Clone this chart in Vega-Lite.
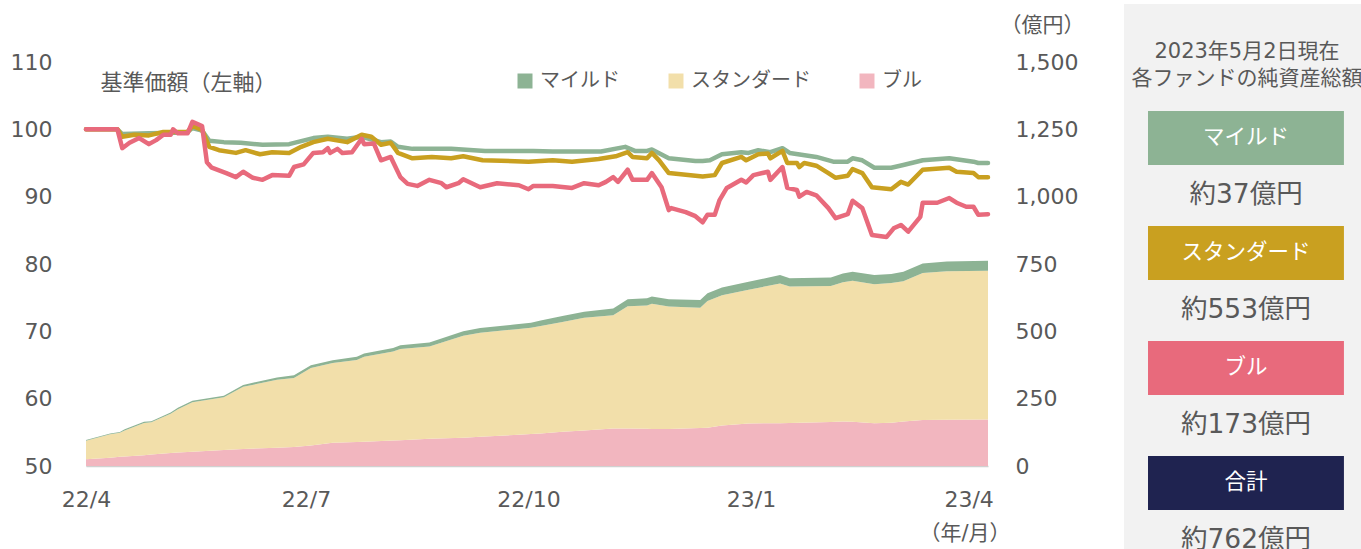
{
  "$schema": "https://vega.github.io/schema/vega-lite/v6.json",
  "padding": {"top": 4, "left": 0, "right": 0, "bottom": 0},
  "background": "white",
  "spacing": 0,
  "config": {
    "font": "DejaVu Sans, Noto Sans CJK JP",
    "view": {"stroke": null},
    "axis": {"labelColor": "#595959", "titleColor": "#595959", "labelFontSize": 22, "titleFontWeight": "normal", "grid": false, "domain": false, "ticks": false}
  },
  "datasets": {
    "funds": [{"f": "マイルド", "no": 1}, {"f": "スタンダード", "no": 2}, {"f": "ブル", "no": 3}],
    "aum": [
      {"d":"2022-04-01","f":"ブル","v":25},{"d":"2022-04-01","f":"スタンダード","v":69},{"d":"2022-04-01","f":"マイルド","v":3},
      {"d":"2022-04-11","f":"ブル","v":31},{"d":"2022-04-11","f":"スタンダード","v":87},{"d":"2022-04-11","f":"マイルド","v":3},
      {"d":"2022-04-15","f":"ブル","v":34},{"d":"2022-04-15","f":"スタンダード","v":89},{"d":"2022-04-15","f":"マイルド","v":3},
      {"d":"2022-04-17","f":"ブル","v":35},{"d":"2022-04-17","f":"スタンダード","v":97},{"d":"2022-04-17","f":"マイルド","v":4},
      {"d":"2022-04-25","f":"ブル","v":40},{"d":"2022-04-25","f":"スタンダード","v":120},{"d":"2022-04-25","f":"マイルド","v":4},
      {"d":"2022-04-28","f":"ブル","v":43},{"d":"2022-04-28","f":"スタンダード","v":119},{"d":"2022-04-28","f":"マイルド","v":4},
      {"d":"2022-05-06","f":"ブル","v":48},{"d":"2022-05-06","f":"スタンダード","v":146},{"d":"2022-05-06","f":"マイルド","v":5},
      {"d":"2022-05-09","f":"ブル","v":50},{"d":"2022-05-09","f":"スタンダード","v":161},{"d":"2022-05-09","f":"マイルド","v":5},
      {"d":"2022-05-15","f":"ブル","v":53},{"d":"2022-05-15","f":"スタンダード","v":184},{"d":"2022-05-15","f":"マイルド","v":5},
      {"d":"2022-05-28","f":"ブル","v":59},{"d":"2022-05-28","f":"スタンダード","v":196},{"d":"2022-05-28","f":"マイルド","v":6},
      {"d":"2022-06-05","f":"ブル","v":63},{"d":"2022-06-05","f":"スタンダード","v":231},{"d":"2022-06-05","f":"マイルド","v":7},
      {"d":"2022-06-19","f":"ブル","v":68},{"d":"2022-06-19","f":"スタンダード","v":252},{"d":"2022-06-19","f":"マイルド","v":9},
      {"d":"2022-06-26","f":"ブル","v":71},{"d":"2022-06-26","f":"スタンダード","v":256},{"d":"2022-06-26","f":"マイルド","v":10},
      {"d":"2022-07-03","f":"ブル","v":76},{"d":"2022-07-03","f":"スタンダード","v":288},{"d":"2022-07-03","f":"マイルド","v":10},
      {"d":"2022-07-12","f":"ブル","v":86},{"d":"2022-07-12","f":"スタンダード","v":296},{"d":"2022-07-12","f":"マイルド","v":11},
      {"d":"2022-07-22","f":"ブル","v":89},{"d":"2022-07-22","f":"スタンダード","v":305},{"d":"2022-07-22","f":"マイルド","v":12},
      {"d":"2022-07-25","f":"ブル","v":90},{"d":"2022-07-25","f":"スタンダード","v":316},{"d":"2022-07-25","f":"マイルド","v":12},
      {"d":"2022-08-06","f":"ブル","v":95},{"d":"2022-08-06","f":"スタンダード","v":330},{"d":"2022-08-06","f":"マイルド","v":13},
      {"d":"2022-08-09","f":"ブル","v":96},{"d":"2022-08-09","f":"スタンダード","v":338},{"d":"2022-08-09","f":"マイルド","v":14},
      {"d":"2022-08-21","f":"ブル","v":101},{"d":"2022-08-21","f":"スタンダード","v":343},{"d":"2022-08-21","f":"マイルド","v":15},
      {"d":"2022-09-04","f":"ブル","v":105},{"d":"2022-09-04","f":"スタンダード","v":379},{"d":"2022-09-04","f":"マイルド","v":16},
      {"d":"2022-09-11","f":"ブル","v":109},{"d":"2022-09-11","f":"スタンダード","v":386},{"d":"2022-09-11","f":"マイルド","v":17},
      {"d":"2022-09-25","f":"ブル","v":115},{"d":"2022-09-25","f":"スタンダード","v":392},{"d":"2022-09-25","f":"マイルド","v":18},
      {"d":"2022-10-02","f":"ブル","v":119},{"d":"2022-10-02","f":"スタンダード","v":394},{"d":"2022-10-02","f":"マイルド","v":19},
      {"d":"2022-10-06","f":"ブル","v":121},{"d":"2022-10-06","f":"スタンダード","v":399},{"d":"2022-10-06","f":"マイルド","v":20},
      {"d":"2022-10-15","f":"ブル","v":127},{"d":"2022-10-15","f":"スタンダード","v":408},{"d":"2022-10-15","f":"マイルド","v":22},
      {"d":"2022-10-24","f":"ブル","v":132},{"d":"2022-10-24","f":"スタンダード","v":418},{"d":"2022-10-24","f":"マイルド","v":23},
      {"d":"2022-11-05","f":"ブル","v":139},{"d":"2022-11-05","f":"スタンダード","v":421},{"d":"2022-11-05","f":"マイルド","v":25},
      {"d":"2022-11-11","f":"ブル","v":139},{"d":"2022-11-11","f":"スタンダード","v":454},{"d":"2022-11-11","f":"マイルド","v":26},
      {"d":"2022-11-19","f":"ブル","v":138},{"d":"2022-11-19","f":"スタンダード","v":458},{"d":"2022-11-19","f":"マイルド","v":27},
      {"d":"2022-11-21","f":"ブル","v":137},{"d":"2022-11-21","f":"スタンダード","v":465},{"d":"2022-11-21","f":"マイルド","v":27},
      {"d":"2022-11-28","f":"ブル","v":137},{"d":"2022-11-28","f":"スタンダード","v":455},{"d":"2022-11-28","f":"マイルド","v":27},
      {"d":"2022-12-11","f":"ブル","v":141},{"d":"2022-12-11","f":"スタンダード","v":447},{"d":"2022-12-11","f":"マイルド","v":28},
      {"d":"2022-12-14","f":"ブル","v":142},{"d":"2022-12-14","f":"スタンダード","v":471},{"d":"2022-12-14","f":"マイルド","v":28},
      {"d":"2022-12-20","f":"ブル","v":150},{"d":"2022-12-20","f":"スタンダード","v":484},{"d":"2022-12-20","f":"マイルド","v":29},
      {"d":"2022-12-31","f":"ブル","v":158},{"d":"2022-12-31","f":"スタンダード","v":496},{"d":"2022-12-31","f":"マイルド","v":30},
      {"d":"2023-01-13","f":"ブル","v":159},{"d":"2023-01-13","f":"スタンダード","v":519},{"d":"2023-01-13","f":"マイルド","v":31},
      {"d":"2023-01-17","f":"ブル","v":160},{"d":"2023-01-17","f":"スタンダード","v":506},{"d":"2023-01-17","f":"マイルド","v":31},
      {"d":"2023-02-03","f":"ブル","v":163},{"d":"2023-02-03","f":"スタンダード","v":505},{"d":"2023-02-03","f":"マイルド","v":32},
      {"d":"2023-02-08","f":"ブル","v":165},{"d":"2023-02-08","f":"スタンダード","v":517},{"d":"2023-02-08","f":"マイルド","v":33},
      {"d":"2023-02-12","f":"ブル","v":164},{"d":"2023-02-12","f":"スタンダード","v":524},{"d":"2023-02-12","f":"マイルド","v":33},
      {"d":"2023-02-21","f":"ブル","v":159},{"d":"2023-02-21","f":"スタンダード","v":516},{"d":"2023-02-21","f":"マイルド","v":34},
      {"d":"2023-02-28","f":"ブル","v":161},{"d":"2023-02-28","f":"スタンダード","v":518},{"d":"2023-02-28","f":"マイルド","v":34},
      {"d":"2023-03-05","f":"ブル","v":165},{"d":"2023-03-05","f":"スタンダード","v":521},{"d":"2023-03-05","f":"マイルド","v":35},
      {"d":"2023-03-13","f":"ブル","v":171},{"d":"2023-03-13","f":"スタンダード","v":546},{"d":"2023-03-13","f":"マイルド","v":35},
      {"d":"2023-03-23","f":"ブル","v":172},{"d":"2023-03-23","f":"スタンダード","v":551},{"d":"2023-03-23","f":"マイルド","v":36},
      {"d":"2023-04-09","f":"ブル","v":173},{"d":"2023-04-09","f":"スタンダード","v":552},{"d":"2023-04-09","f":"マイルド","v":37}
    ],
    "nav": [
      {"d":"2022-04-01","f":"マイルド","v":100},{"d":"2022-04-14","f":"マイルド","v":100},{"d":"2022-04-16","f":"マイルド","v":99.3},{"d":"2022-04-27","f":"マイルド","v":99.4},{"d":"2022-05-08","f":"マイルド","v":99.5},{"d":"2022-05-13","f":"マイルド","v":99.6},{"d":"2022-05-15","f":"マイルド","v":100.2},{"d":"2022-05-19","f":"マイルド","v":99.8},{"d":"2022-05-22","f":"マイルド","v":98.3},{"d":"2022-05-28","f":"マイルド","v":98.1},{"d":"2022-06-04","f":"マイルド","v":98.0},{"d":"2022-06-13","f":"マイルド","v":97.7},{"d":"2022-06-24","f":"マイルド","v":97.8},{"d":"2022-07-04","f":"マイルド","v":98.7},{"d":"2022-07-10","f":"マイルド","v":98.9},{"d":"2022-07-18","f":"マイルド","v":98.6},{"d":"2022-07-24","f":"マイルド","v":98.9},{"d":"2022-08-01","f":"マイルド","v":98.1},{"d":"2022-08-05","f":"マイルド","v":98.2},{"d":"2022-08-08","f":"マイルド","v":97.4},{"d":"2022-08-14","f":"マイルド","v":97.1},{"d":"2022-08-30","f":"マイルド","v":97.1},{"d":"2022-09-13","f":"マイルド","v":96.8},{"d":"2022-10-03","f":"マイルド","v":96.8},{"d":"2022-10-11","f":"マイルド","v":96.7},{"d":"2022-10-31","f":"マイルド","v":96.7},{"d":"2022-11-10","f":"マイルド","v":97.4},{"d":"2022-11-14","f":"マイルド","v":96.8},{"d":"2022-11-19","f":"マイルド","v":96.8},{"d":"2022-11-21","f":"マイルド","v":97.0},{"d":"2022-11-28","f":"マイルド","v":95.7},{"d":"2022-12-09","f":"マイルド","v":95.3},{"d":"2022-12-12","f":"マイルド","v":95.3},{"d":"2022-12-15","f":"マイルド","v":95.4},{"d":"2022-12-20","f":"マイルド","v":96.3},{"d":"2022-12-28","f":"マイルド","v":96.6},{"d":"2022-12-31","f":"マイルド","v":96.5},{"d":"2023-01-04","f":"マイルド","v":96.9},{"d":"2023-01-09","f":"マイルド","v":96.6},{"d":"2023-01-14","f":"マイルド","v":97.2},{"d":"2023-01-17","f":"マイルド","v":96.5},{"d":"2023-01-28","f":"マイルド","v":95.9},{"d":"2023-02-04","f":"マイルド","v":95.2},{"d":"2023-02-10","f":"マイルド","v":95.2},{"d":"2023-02-12","f":"マイルド","v":95.7},{"d":"2023-02-16","f":"マイルド","v":95.4},{"d":"2023-02-21","f":"マイルド","v":94.3},{"d":"2023-02-28","f":"マイルド","v":94.3},{"d":"2023-03-05","f":"マイルド","v":94.7},{"d":"2023-03-13","f":"マイルド","v":95.4},{"d":"2023-03-24","f":"マイルド","v":95.7},{"d":"2023-04-03","f":"マイルド","v":95.2},{"d":"2023-04-05","f":"マイルド","v":95.0},{"d":"2023-04-09","f":"マイルド","v":95.0},
      {"d":"2022-04-01","f":"スタンダード","v":100},{"d":"2022-04-14","f":"スタンダード","v":100},{"d":"2022-04-16","f":"スタンダード","v":98.9},{"d":"2022-04-21","f":"スタンダード","v":99.2},{"d":"2022-04-27","f":"スタンダード","v":99.1},{"d":"2022-05-03","f":"スタンダード","v":99.6},{"d":"2022-05-13","f":"スタンダード","v":99.6},{"d":"2022-05-15","f":"スタンダード","v":100.5},{"d":"2022-05-19","f":"スタンダード","v":99.9},{"d":"2022-05-22","f":"スタンダード","v":97.4},{"d":"2022-05-26","f":"スタンダード","v":96.9},{"d":"2022-06-02","f":"スタンダード","v":96.5},{"d":"2022-06-06","f":"スタンダード","v":96.9},{"d":"2022-06-12","f":"スタンダード","v":96.3},{"d":"2022-06-17","f":"スタンダード","v":96.6},{"d":"2022-06-24","f":"スタンダード","v":96.5},{"d":"2022-06-29","f":"スタンダード","v":97.4},{"d":"2022-07-04","f":"スタンダード","v":98.1},{"d":"2022-07-10","f":"スタンダード","v":98.6},{"d":"2022-07-18","f":"スタンダード","v":98.1},{"d":"2022-07-24","f":"スタンダード","v":99.2},{"d":"2022-07-28","f":"スタンダード","v":98.9},{"d":"2022-08-01","f":"スタンダード","v":97.7},{"d":"2022-08-05","f":"スタンダード","v":98.0},{"d":"2022-08-08","f":"スタンダード","v":96.5},{"d":"2022-08-14","f":"スタンダード","v":95.7},{"d":"2022-08-22","f":"スタンダード","v":95.9},{"d":"2022-08-30","f":"スタンダード","v":95.7},{"d":"2022-09-04","f":"スタンダード","v":96.0},{"d":"2022-09-12","f":"スタンダード","v":95.4},{"d":"2022-10-01","f":"スタンダード","v":95.2},{"d":"2022-10-11","f":"スタンダード","v":95.4},{"d":"2022-10-19","f":"スタンダード","v":95.2},{"d":"2022-10-30","f":"スタンダード","v":95.6},{"d":"2022-11-06","f":"スタンダード","v":96.0},{"d":"2022-11-11","f":"スタンダード","v":96.6},{"d":"2022-11-13","f":"スタンダード","v":95.9},{"d":"2022-11-19","f":"スタンダード","v":95.7},{"d":"2022-11-21","f":"スタンダード","v":96.5},{"d":"2022-11-24","f":"スタンダード","v":95.4},{"d":"2022-11-28","f":"スタンダード","v":93.5},{"d":"2022-12-09","f":"スタンダード","v":93.1},{"d":"2022-12-12","f":"スタンダード","v":93.0},{"d":"2022-12-17","f":"スタンダード","v":93.2},{"d":"2022-12-20","f":"スタンダード","v":95.0},{"d":"2022-12-28","f":"スタンダード","v":95.9},{"d":"2022-12-30","f":"スタンダード","v":95.4},{"d":"2023-01-04","f":"スタンダード","v":96.3},{"d":"2023-01-08","f":"スタンダード","v":96.4},{"d":"2023-01-09","f":"スタンダード","v":95.7},{"d":"2023-01-14","f":"スタンダード","v":96.8},{"d":"2023-01-16","f":"スタンダード","v":95.0},{"d":"2023-01-20","f":"スタンダード","v":95.0},{"d":"2023-01-21","f":"スタンダード","v":94.4},{"d":"2023-01-23","f":"スタンダード","v":95.0},{"d":"2023-01-28","f":"スタンダード","v":94.6},{"d":"2023-02-02","f":"スタンダード","v":93.5},{"d":"2023-02-05","f":"スタンダード","v":92.8},{"d":"2023-02-10","f":"スタンダード","v":93.1},{"d":"2023-02-12","f":"スタンダード","v":94.1},{"d":"2023-02-16","f":"スタンダード","v":93.5},{"d":"2023-02-20","f":"スタンダード","v":91.4},{"d":"2023-02-28","f":"スタンダード","v":91.1},{"d":"2023-03-04","f":"スタンダード","v":92.2},{"d":"2023-03-07","f":"スタンダード","v":91.8},{"d":"2023-03-13","f":"スタンダード","v":94.0},{"d":"2023-03-24","f":"スタンダード","v":94.3},{"d":"2023-03-27","f":"スタンダード","v":93.7},{"d":"2023-04-03","f":"スタンダード","v":93.5},{"d":"2023-04-05","f":"スタンダード","v":92.9},{"d":"2023-04-09","f":"スタンダード","v":92.9},
      {"d":"2022-04-01","f":"ブル","v":100},{"d":"2022-04-14","f":"ブル","v":100},{"d":"2022-04-16","f":"ブル","v":97.2},{"d":"2022-04-19","f":"ブル","v":98.0},{"d":"2022-04-23","f":"ブル","v":98.7},{"d":"2022-04-27","f":"ブル","v":97.8},{"d":"2022-04-30","f":"ブル","v":98.4},{"d":"2022-05-03","f":"ブル","v":99.2},{"d":"2022-05-06","f":"ブル","v":99.2},{"d":"2022-05-07","f":"ブル","v":100.0},{"d":"2022-05-09","f":"ブル","v":99.4},{"d":"2022-05-13","f":"ブル","v":99.4},{"d":"2022-05-15","f":"ブル","v":101.1},{"d":"2022-05-19","f":"ブル","v":100.5},{"d":"2022-05-21","f":"ブル","v":95.1},{"d":"2022-05-23","f":"ブル","v":94.3},{"d":"2022-05-29","f":"ブル","v":93.5},{"d":"2022-06-02","f":"ブル","v":92.9},{"d":"2022-06-05","f":"ブル","v":93.7},{"d":"2022-06-09","f":"ブル","v":92.8},{"d":"2022-06-13","f":"ブル","v":92.5},{"d":"2022-06-17","f":"ブル","v":93.2},{"d":"2022-06-24","f":"ブル","v":93.1},{"d":"2022-06-26","f":"ブル","v":94.4},{"d":"2022-06-30","f":"ブル","v":94.8},{"d":"2022-07-04","f":"ブル","v":96.5},{"d":"2022-07-08","f":"ブル","v":96.6},{"d":"2022-07-10","f":"ブル","v":97.2},{"d":"2022-07-11","f":"ブル","v":96.5},{"d":"2022-07-14","f":"ブル","v":97.1},{"d":"2022-07-16","f":"ブル","v":96.5},{"d":"2022-07-20","f":"ブル","v":96.6},{"d":"2022-07-24","f":"ブル","v":98.6},{"d":"2022-07-25","f":"ブル","v":97.8},{"d":"2022-07-29","f":"ブル","v":97.9},{"d":"2022-08-01","f":"ブル","v":95.4},{"d":"2022-08-05","f":"ブル","v":95.9},{"d":"2022-08-09","f":"ブル","v":92.9},{"d":"2022-08-12","f":"ブル","v":91.9},{"d":"2022-08-16","f":"ブル","v":91.6},{"d":"2022-08-21","f":"ブル","v":92.5},{"d":"2022-08-26","f":"ブル","v":92.0},{"d":"2022-08-28","f":"ブル","v":91.4},{"d":"2022-09-02","f":"ブル","v":92.0},{"d":"2022-09-04","f":"ブル","v":92.6},{"d":"2022-09-11","f":"ブル","v":91.4},{"d":"2022-09-18","f":"ブル","v":92.0},{"d":"2022-09-27","f":"ブル","v":91.7},{"d":"2022-10-01","f":"ブル","v":91.1},{"d":"2022-10-03","f":"ブル","v":91.6},{"d":"2022-10-11","f":"ブル","v":91.6},{"d":"2022-10-19","f":"ブル","v":91.3},{"d":"2022-10-24","f":"ブル","v":92.0},{"d":"2022-10-30","f":"ブル","v":91.7},{"d":"2022-11-02","f":"ブル","v":92.2},{"d":"2022-11-05","f":"ブル","v":92.9},{"d":"2022-11-07","f":"ブル","v":92.2},{"d":"2022-11-11","f":"ブル","v":94.0},{"d":"2022-11-13","f":"ブル","v":92.5},{"d":"2022-11-19","f":"ブル","v":92.5},{"d":"2022-11-21","f":"ブル","v":93.5},{"d":"2022-11-25","f":"ブル","v":91.4},{"d":"2022-11-28","f":"ブル","v":88.0},{"d":"2022-11-29","f":"ブル","v":88.3},{"d":"2022-12-05","f":"ブル","v":87.7},{"d":"2022-12-09","f":"ブル","v":87.1},{"d":"2022-12-12","f":"ブル","v":86.2},{"d":"2022-12-14","f":"ブル","v":87.3},{"d":"2022-12-17","f":"ブル","v":87.3},{"d":"2022-12-19","f":"ブル","v":89.5},{"d":"2022-12-22","f":"ブル","v":91.3},{"d":"2022-12-28","f":"ブル","v":92.5},{"d":"2022-12-30","f":"ブル","v":92.1},{"d":"2023-01-02","f":"ブル","v":93.2},{"d":"2023-01-08","f":"ブル","v":93.7},{"d":"2023-01-09","f":"ブル","v":92.5},{"d":"2023-01-14","f":"ブル","v":94.4},{"d":"2023-01-16","f":"ブル","v":91.3},{"d":"2023-01-20","f":"ブル","v":91.0},{"d":"2023-01-21","f":"ブル","v":90.0},{"d":"2023-01-24","f":"ブル","v":90.7},{"d":"2023-01-28","f":"ブル","v":90.2},{"d":"2023-02-02","f":"ブル","v":88.3},{"d":"2023-02-05","f":"ブル","v":86.8},{"d":"2023-02-10","f":"ブル","v":87.4},{"d":"2023-02-12","f":"ブル","v":89.4},{"d":"2023-02-16","f":"ブル","v":88.3},{"d":"2023-02-20","f":"ブル","v":84.3},{"d":"2023-02-26","f":"ブル","v":84.0},{"d":"2023-03-01","f":"ブル","v":85.3},{"d":"2023-03-04","f":"ブル","v":85.8},{"d":"2023-03-07","f":"ブル","v":84.8},{"d":"2023-03-12","f":"ブル","v":87.0},{"d":"2023-03-13","f":"ブル","v":89.1},{"d":"2023-03-19","f":"ブル","v":89.1},{"d":"2023-03-24","f":"ブル","v":89.8},{"d":"2023-03-27","f":"ブル","v":89.1},{"d":"2023-03-31","f":"ブル","v":88.5},{"d":"2023-04-03","f":"ブル","v":88.5},{"d":"2023-04-05","f":"ブル","v":87.3},{"d":"2023-04-09","f":"ブル","v":87.4}
    ],
    "panel": [
      {"name": "マイルド", "amount": "約37億円"},
      {"name": "スタンダード", "amount": "約553億円"},
      {"name": "ブル", "amount": "約173億円"},
      {"name": "合計", "amount": "約762億円"}
    ]
  },
  "hconcat": [
    {
      "width": 902,
      "height": 462,
      "encoding": {
        "x": {
          "field": "d", "type": "temporal",
          "scale": {"type": "utc", "domain": [{"year": 2022, "month": 4, "date": 1, "utc": true}, {"year": 2023, "month": 4, "date": 9, "utc": true}]},
          "axis": {
            "values": [{"year": 2022, "month": 4, "date": 1, "utc": true}, {"year": 2022, "month": 7, "date": 1, "utc": true}, {"year": 2022, "month": 10, "date": 1, "utc": true}, {"year": 2023, "month": 1, "date": 1, "utc": true}, {"year": 2023, "month": 4, "date": 1, "utc": true}],
            "format": "%y/%-m", "labelFlush": false, "labelPadding": 30,
            "ticks": true, "tickSize": -7, "tickColor": "#d0d0d0", "tickWidth": 1,
            "domain": true, "domainColor": "#d0d0d0", "domainWidth": 1.5,
            "title": "（年/月）", "titleAngle": 0, "titleAlign": "right", "titleBaseline": "middle", "titleX": 924, "titleY": 67, "titleFontSize": 21
          }
        }
      },
      "layer": [
        {
          "data": {"name": "aum"},
          "transform": [{"lookup": "f", "from": {"data": {"name": "funds"}, "key": "f", "fields": ["no"]}}],
          "mark": {"type": "area", "interpolate": "linear", "opacity": 1},
          "encoding": {
            "y": {
              "field": "v", "type": "quantitative", "stack": "zero",
              "scale": {"domain": [0, 1715.35], "nice": false},
              "axis": {"orient": "right", "values": [0, 250, 500, 750, 1000, 1250, 1500], "format": ",.0f", "labelPadding": 27, "tickSize": 0, "minExtent": 136, "maxExtent": 136,
                "title": "（億円）", "titleAngle": 0, "titleAlign": "center", "titleBaseline": "middle", "titleX": 54, "titleY": 21, "titleFontSize": 21}
            },
            "color": {
              "field": "f", "type": "nominal",
              "scale": {"domain": ["マイルド", "スタンダード", "ブル"], "range": ["#8DB394", "#F2DFAA", "#F2B6BF"]},
              "legend": {"orient": "none", "legendX": 429, "legendY": 67, "direction": "horizontal", "title": null,
                "symbolType": "square", "symbolSize": 225, "symbolStrokeWidth": 0, "symbolOpacity": 1, "labelFontSize": 20, "labelColor": "#595959", "labelOffset": 5, "columnPadding": 46, "padding": 0}
            },
            "order": {"field": "no", "type": "quantitative", "sort": "descending"}
          }
        },
        {
          "layer": [
            {
              "data": {"name": "nav"},
              "mark": {"type": "line", "strokeWidth": 4.5, "strokeJoin": "round", "strokeCap": "round"},
              "encoding": {
                "y": {
                  "field": "v", "type": "quantitative",
                  "scale": {"domain": [50, 118.614], "nice": false, "zero": false},
                  "axis": {"orient": "left", "values": [50, 60, 70, 80, 90, 100, 110], "labelPadding": 34, "tickSize": 0, "minExtent": 86, "maxExtent": 86,
                    "title": "基準価額（左軸）", "titleAngle": 0, "titleAlign": "left", "titleBaseline": "middle", "titleX": 14, "titleY": 78, "titleFontSize": 22}
                },
                "color": {
                  "field": "f", "type": "nominal",
                  "scale": {"domain": ["マイルド", "スタンダード", "ブル"], "range": ["#8DB394", "#C9A020", "#E86A7C"]},
                  "legend": null
                }
              }
            },
            {
              "data": {"values": [{}]},
              "mark": {"type": "text", "align": "right", "baseline": "middle", "fontSize": 22, "color": "#595959"},
              "encoding": {
                "x": {"datum": {"year": 2023, "month": 3, "date": 29, "utc": true}, "type": "temporal"},
                "y": {"datum": 63.96, "type": "quantitative"},
                "text": {"value": "純資産総額（右軸）"}
              }
            }
          ]
        }
      ],
      "resolve": {"scale": {"y": "independent", "color": "independent"}}
    },
    {
      "width": 237,
      "height": 545,
      "view": {"fill": "#f2f2f2", "stroke": null},
      "data": {"name": "panel"},
      "encoding": {
        "y": {"field": "name", "type": "nominal", "scale": {"domain": ["マイルド", "スタンダード", "ブル", "合計"], "paddingInner": 0.53, "paddingOuter": 0.635, "align": 0.733}, "axis": null}
      },
      "layer": [
        {
          "mark": {"type": "bar"},
          "encoding": {
            "x": {"datum": 0.1013, "type": "quantitative", "scale": {"domain": [0, 1], "nice": false}, "axis": null},
            "x2": {"datum": 0.928},
            "color": {"field": "name", "type": "nominal", "scale": {"domain": ["マイルド", "スタンダード", "ブル", "合計"], "range": ["#8DB394", "#C9A020", "#E86A7C", "#1F2350"]}, "legend": null}
          }
        },
        {
          "mark": {"type": "text", "color": "white", "fontSize": 21.5, "baseline": "middle"},
          "encoding": {
            "x": {"datum": 0.515, "type": "quantitative"},
            "text": {"field": "name"}
          }
        },
        {
          "mark": {"type": "text", "color": "#595959", "fontSize": 26.5, "baseline": "middle"},
          "encoding": {
            "x": {"datum": 0.515, "type": "quantitative"},
            "y": {"field": "name", "type": "nominal", "bandPosition": 1.55},
            "text": {"field": "amount"}
          }
        },
        {
          "data": {"values": [{}]},
          "mark": {"type": "text", "color": "#595959", "fontSize": 21, "baseline": "middle", "lineHeight": 27},
          "encoding": {
            "x": {"datum": 0.519, "type": "quantitative"},
            "y": {"datum": "マイルド", "type": "nominal", "bandPosition": -1.101},
            "text": {"value": ["2023年5月2日現在", "各ファンドの純資産総額"]}
          }
        }
      ]
    }
  ]
}
